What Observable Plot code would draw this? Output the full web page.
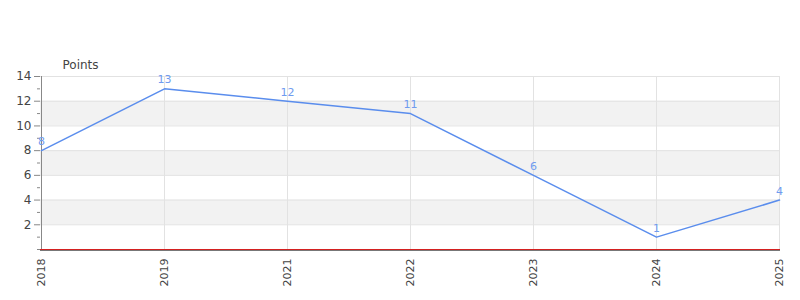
<!DOCTYPE html>
<html>
<head>
<meta charset="utf-8">
<script src="https://cdn.jsdelivr.net/npm/d3@7"></script>
<script src="https://cdn.jsdelivr.net/npm/@observablehq/plot@0.6"></script>
<style>
  html, body { margin: 0; padding: 0; background: #fff; }
  #chart { position: relative; width: 800px; height: 300px; }
</style>
</head>
<body>
<div id="chart"></div>
<script>
const years = ["2018", "2019", "2021", "2022", "2023", "2024", "2025"];
const points = [8, 13, 12, 11, 6, 1, 4];
const yTicks = [2, 4, 6, 8, 10, 12, 14];
const yMinorTicks = [0, 1, 3, 5, 7, 9, 11, 13];
const yAxisLabel = "Points";

const data = years.map((y, i) => ({year: y, value: points[i]}));
const bands = [];
for (let i = 0; i + 1 < yTicks.length; i += 2) bands.push({lo: yTicks[i], hi: yTicks[i + 1]});
const lineColor = "#5a8ded";

const chart = Plot.plot({
  width: 800,
  height: 300,
  marginLeft: 40,
  marginRight: 20,
  marginTop: 76,
  marginBottom: 51,
  style: {fontFamily: "DejaVu Sans, sans-serif", fontSize: "11px", color: "#333", background: "#fff"},
  x: {type: "point", domain: years, padding: 0, label: null},
  y: {domain: [0, 14], label: null},
  marks: [
    Plot.rectY(bands, {y1: "lo", y2: "hi", fill: "#f2f2f2"}),
    Plot.gridY(yTicks, {stroke: "#e2e2e2", strokeOpacity: 1}),
    Plot.gridX(years, {stroke: "#e2e2e2", strokeOpacity: 1}),
    Plot.axisY(yTicks, {tickSize: 6, tickPadding: 3, fontSize: 12, color: "#444", stroke: "#888", label: null}),
    Plot.axisY(yMinorTicks, {tickSize: 3, tickFormat: () => "", stroke: "#888", label: null}),
    Plot.ruleX([years[0]], {stroke: "#888"}),
    Plot.ruleY([0], {stroke: "#777", dy: 1}),
    Plot.ruleY([0], {stroke: "#d42020"}),
    Plot.axisX({tickSize: 0, tickRotate: -90, tickPadding: 9, fontSize: 11, color: "#444", label: null}),
    Plot.line(data, {x: "year", y: "value", stroke: lineColor, strokeWidth: 1.5}),
    Plot.text(data, {x: "year", y: "value", text: d => String(d.value), dy: -9, fill: "#6f9bef", fontSize: 11}),
    Plot.text([yAxisLabel], {frameAnchor: "top-left", dx: 22, dy: -16, fontSize: 12, fill: "#444", textAnchor: "start"})
  ]
});
document.getElementById("chart").appendChild(chart);
</script>
</body>
</html>
